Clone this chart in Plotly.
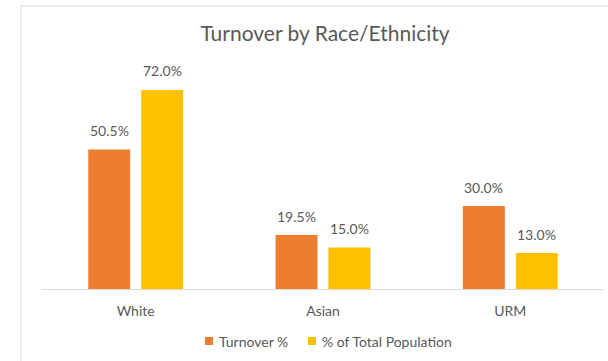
import plotly.graph_objects as go

categories = ["White", "Asian", "URM"]
turnover_pct = [50.5, 19.5, 30.0]
population_pct = [72.0, 15.0, 13.0]
series_names = ["Turnover %", "% of Total Population"]
series_colors = ["#ED7D31", "#FFC000"]
title_text = "Turnover by Race/Ethnicity"

TEXT_GREY = "#595959"
FONT = "Lato, Liberation Sans, sans-serif"

# plot-area geometry in pixels, used to place decorations in paper units
PL, PR, PT, PB = 42, 604, 68, 289


def px_x(px):
    return (px - PL) / (PR - PL)


def px_y(py):
    return (PB - py) / (PB - PT)


fig = go.Figure()
for name, vals, color in zip(series_names, [turnover_pct, population_pct], series_colors):
    fig.add_trace(go.Bar(
        x=categories, y=vals, name=name,
        marker=dict(color=color, line=dict(width=0)),
        hoverinfo="skip", showlegend=False,
    ))

# value labels above each bar, offset to the bar's slot in the group
slot_px = 53
for i, vals in enumerate([turnover_pct, population_pct]):
    shift = (-0.5 + i) * slot_px
    for cat, v in zip(categories, vals):
        fig.add_annotation(
            x=cat, y=v, text=f"{v:.1f}%", showarrow=False,
            xshift=shift, yshift=19, yanchor="middle",
            font=dict(family=FONT, size=14, color=TEXT_GREY),
        )

# compact legend: square swatch followed by the series name
legend_y = 341
swatch_x = [205, 308]
for name, color, sx in zip(series_names, series_colors, swatch_x):
    fig.add_shape(type="rect", xref="paper", yref="paper",
                  x0=px_x(sx), x1=px_x(sx + 8),
                  y0=px_y(legend_y + 4), y1=px_y(legend_y - 4),
                  fillcolor=color, line=dict(width=0))
    fig.add_annotation(xref="paper", yref="paper",
                       x=px_x(sx + 12), y=px_y(legend_y),
                       xanchor="left", yanchor="middle", showarrow=False,
                       text=name,
                       font=dict(family=FONT, size=14, color=TEXT_GREY))

# chart-area frame
fig.add_shape(type="rect", xref="paper", yref="paper",
              x0=px_x(21), x1=1.2, y0=-0.6, y1=px_y(6),
              line=dict(color="#D9D9D9", width=1), layer="below")

fig.update_layout(
    width=608, height=361,
    margin=dict(l=PL, r=608 - PR, t=PT, b=361 - PB),
    paper_bgcolor="white", plot_bgcolor="white",
    barmode="group", bargap=0.435, bargroupgap=0.2075,
    title=dict(text=title_text, x=325 / 608, xanchor="center",
               y=1 - 34 / 361, yanchor="middle",
               font=dict(family=FONT, size=21, color=TEXT_GREY)),
    showlegend=False,
    font=dict(family=FONT, color=TEXT_GREY),
)
fig.update_xaxes(showline=True, linecolor="#D9D9D9", linewidth=1,
                 ticks="outside", ticklen=9, tickcolor="rgba(0,0,0,0)",
                 tickfont=dict(family=FONT, size=14, color=TEXT_GREY),
                 showgrid=False, fixedrange=True)
fig.update_yaxes(range=[0, 221 / 2.764], visible=False, showgrid=False,
                 zeroline=False, fixedrange=True)

fig.write_html("out.html")
